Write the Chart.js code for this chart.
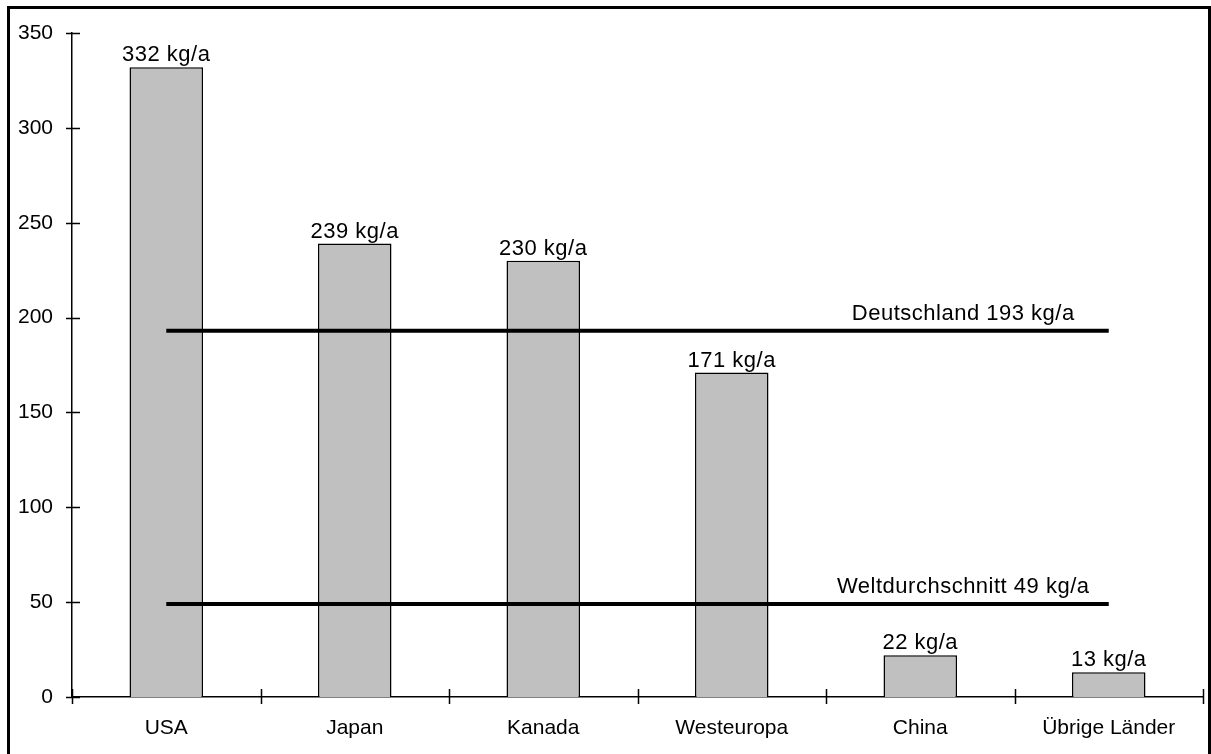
<!DOCTYPE html>
<html>
<head>
<meta charset="utf-8">
<script src="https://cdn.jsdelivr.net/npm/chart.js@4"></script>
<style>
    html, body { margin: 0; padding: 0; background: #fff; overflow: hidden; }
    #wrap { position: relative; width: 1211px; height: 754px; }
    #frame { position: absolute; left: 7px; top: 6px; width: 1198px; height: 800px; border: 3px solid #000; pointer-events: none; }
    canvas { position: absolute; left: 0; top: 0; }
</style>
</head>
<body>
<div id="wrap">
    <canvas id="chart" width="1211" height="754"></canvas>
    <div id="frame"></div>
</div>
<script>
const categories = ['USA', 'Japan', 'Kanada', 'Westeuropa', 'China', 'Übrige Länder'];
const consumption = [332, 239, 230, 171, 22, 13];
const germany = [193, 193, 193, 193, 193, 193];
const worldAverage = [49, 49, 49, 49, 49, 49];
const germanyLabel = 'Deutschland 193 kg/a';
const worldLabel = 'Weltdurchschnitt 49 kg/a';
const yTicks = [0, 50, 100, 150, 200, 250, 300, 350];

const FONT = { family: 'Liberation Sans, Arial, sans-serif', size: 21 };

const labelPlugin = {
    id: 'labels',
    afterDatasetsDraw: (chart) => {
        const ctx = chart.ctx;
        const x = chart.scales.x;
        const y = chart.scales.y;

        ctx.save();
        ctx.fillStyle = '#000';
        ctx.font = '22px ' + FONT.family;
        ctx.letterSpacing = '0.5px';
        ctx.textAlign = 'center';
        ctx.textBaseline = 'alphabetic';

        // values over the bars
        const bars = chart.getDatasetMeta(2).data;
        bars.forEach((bar, i) => {
            ctx.fillText(consumption[i] + ' kg/a', bar.x, bar.y - 6);
        });

        // line captions
        const labelX = x.getPixelForValue(4) + 43;
        ctx.fillText(germanyLabel, labelX, y.getPixelForValue(germany[0]) - 11);
        ctx.fillText(worldLabel, labelX, y.getPixelForValue(worldAverage[0]) - 11);
        ctx.letterSpacing = '0px';

        // tick marks crossing the axes
        ctx.strokeStyle = '#000';
        ctx.lineWidth = 1.5;
        ctx.beginPath();
        yTicks.forEach((v) => {
            const py = Math.round(y.getPixelForValue(v)) + 0.5;
            ctx.moveTo(x.left - 6, py);
            ctx.lineTo(x.left + 8, py);
        });
        const step = (x.right - x.left) / categories.length;
        for (let i = 0; i <= categories.length; i++) {
            const px = Math.round(x.left + i * step) + 0.5;
            ctx.moveTo(px, y.bottom - 8);
            ctx.lineTo(px, y.bottom + 7);
        }
        ctx.stroke();
        ctx.restore();
    }
};

const loadChart = () => {
    new Chart(document.getElementById('chart'), {
        data: {
            labels: categories,
            datasets: [
                {
                    type: 'line',
                    data: germany,
                    borderColor: '#000',
                    borderWidth: 4,
                    pointRadius: 0,
                    order: 0
                },
                {
                    type: 'line',
                    data: worldAverage,
                    borderColor: '#000',
                    borderWidth: 4,
                    pointRadius: 0,
                    order: 0
                },
                {
                    type: 'bar',
                    data: consumption,
                    backgroundColor: '#c0c0c0',
                    borderColor: '#000',
                    borderWidth: 1.5,
                    categoryPercentage: 1,
                    barPercentage: 0.39,
                    order: 1
                }
            ]
        },
        options: {
            responsive: false,
            animation: false,
            layout: { padding: { top: 33, right: 8, left: 0, bottom: 0 } },
            plugins: {
                legend: { display: false },
                tooltip: { enabled: false }
            },
            scales: {
                x: {
                    grid: { display: false, drawTicks: false },
                    border: { display: true, color: '#000', width: 1.5 },
                    ticks: { color: '#000', font: FONT, padding: 19, maxRotation: 0 },
                    afterFit: (scale) => { scale.height = 57; }
                },
                y: {
                    min: 0,
                    max: 350,
                    grid: { display: false, drawTicks: false },
                    border: { display: true, color: '#000', width: 1.5 },
                    ticks: { color: '#000', font: FONT, padding: 19, stepSize: 50 },
                    afterFit: (scale) => { scale.width = 72; }
                }
            }
        },
        plugins: [labelPlugin]
    });
}

loadChart();
</script>
</body>
</html>
